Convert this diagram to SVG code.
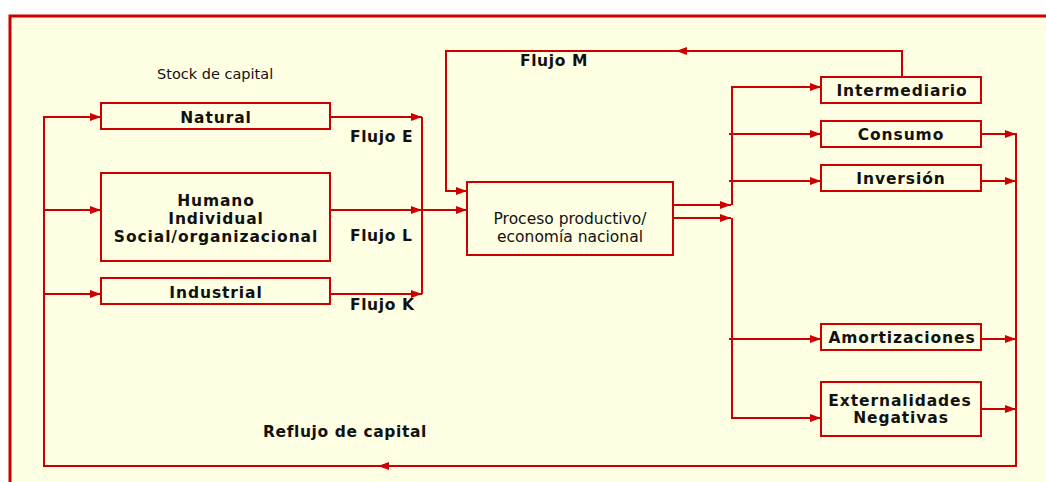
<svg xmlns="http://www.w3.org/2000/svg" width="1046" height="482" viewBox="0 0 1046 482">
  <defs>
    <marker id="arrow" markerWidth="11" markerHeight="8" refX="11" refY="4" orient="auto" markerUnits="userSpaceOnUse">
      <path d="M0,0 L11,4 L0,8 z" fill="#CC0000"/>
    </marker>
  </defs>
  <style>
    .box { fill: #FFFFE3; stroke: #CC0000; stroke-width: 2; }
    .wire { fill: none; stroke: #CC0000; stroke-width: 2; }
    .arr { marker-end: url(#arrow); }
    .lbl { font-family: "DejaVu Sans", Verdana, sans-serif; font-weight: bold; font-size: 15.5px; letter-spacing: 0.9px; fill: #111; text-anchor: middle; }
    .flow { font-family: "DejaVu Sans", Verdana, sans-serif; font-weight: bold; font-size: 15.5px; letter-spacing: 0.6px; fill: #111; }
    .plain { font-family: "DejaVu Sans", Verdana, sans-serif; font-size: 15.5px; fill: #111; }
  </style>

  <!-- page background and frame -->
  <rect x="0" y="0" width="1046" height="482" fill="#FFFFFF"/>
  <rect x="10" y="16" width="1100" height="520" fill="#FFFFE3" stroke="#CC0000" stroke-width="3"/>

  <text class="plain" x="157" y="79" style="font-size:14.5px">Stock de capital</text>

  <!-- connectors -->
  <g id="connectors">
    <!-- feedback into the capital stocks -->
    <path class="wire arr" d="M1016,466 L378,466"/>
    <path class="wire arr" d="M388,466 L44,466 L44,117 L101,117"/>
    <path class="wire arr" d="M44,210 L101,210"/>
    <path class="wire arr" d="M44,294 L101,294"/>

    <!-- flows E, L, K -->
    <path class="wire arr" d="M330,117 L422,117"/>
    <path class="wire arr" d="M330,210 L422,210"/>
    <path class="wire arr" d="M330,294 L422,294"/>
    <path class="wire" d="M422,117 L422,294"/>
    <path class="wire arr" d="M420,210 L467,210"/>

    <!-- flow M -->
    <path class="wire arr" d="M902,77 L902,51 L676,51"/>
    <path class="wire arr" d="M686,51 L446,51 L446,191 L467,191"/>

    <!-- outputs of the productive process -->
    <path class="wire arr" d="M673,205 L731,205"/>
    <path class="wire arr" d="M673,218 L731,218"/>
    <path class="wire arr" d="M732,205 L732,87 L821,87"/>
    <path class="wire arr" d="M729,134 L821,134"/>
    <path class="wire arr" d="M729,181 L821,181"/>
    <path class="wire arr" d="M732,218 L732,418 L821,418"/>
    <path class="wire arr" d="M729,339 L821,339"/>

    <!-- return to the collector -->
    <path class="wire arr" d="M981,134 L1016,134"/>
    <path class="wire arr" d="M981,181 L1016,181"/>
    <path class="wire arr" d="M981,339 L1016,339"/>
    <path class="wire arr" d="M981,409 L1016,409"/>
    <path class="wire" d="M1016,133 L1016,467"/>
  </g>

  <!-- flow labels -->
  <text class="flow" x="350" y="142">Flujo E</text>
  <text class="flow" x="350" y="241">Flujo L</text>
  <text class="flow" x="350" y="310">Flujo K</text>
  <text class="flow" x="520" y="66">Flujo M</text>
  <text class="flow" x="263" y="437">Reflujo de capital</text>

  <!-- capital stocks -->
  <g id="natural">
    <rect class="box" x="101" y="103" width="229" height="26"/>
    <text class="lbl" x="216" y="123">Natural</text>
  </g>
  <g id="humano">
    <rect class="box" x="101" y="173" width="229" height="88"/>
    <text class="lbl" x="216" y="206">Humano</text>
    <text class="lbl" x="216" y="224">Individual</text>
    <text class="lbl" x="216" y="242">Social/organizacional</text>
  </g>
  <g id="industrial">
    <rect class="box" x="101" y="278" width="229" height="26"/>
    <text class="lbl" x="216" y="298">Industrial</text>
  </g>

  <!-- productive process -->
  <g id="proceso">
    <rect class="box" x="467" y="182" width="206" height="73"/>
    <text class="plain" x="570" y="224" text-anchor="middle">Proceso productivo/</text>
    <text class="plain" x="570" y="242" text-anchor="middle">economía nacional</text>
  </g>

  <!-- uses of output -->
  <g id="intermediario">
    <rect class="box" x="821" y="77" width="160" height="26"/>
    <text class="lbl" x="902" y="96">Intermediario</text>
  </g>
  <g id="consumo">
    <rect class="box" x="821" y="121" width="160" height="26"/>
    <text class="lbl" x="901" y="140">Consumo</text>
  </g>
  <g id="inversion">
    <rect class="box" x="821" y="165" width="160" height="26"/>
    <text class="lbl" x="901" y="184">Inversión</text>
  </g>
  <g id="amortizaciones">
    <rect class="box" x="821" y="324" width="160" height="26"/>
    <text class="lbl" x="902" y="343">Amortizaciones</text>
  </g>
  <g id="externalidades">
    <rect class="box" x="821" y="382" width="160" height="54"/>
    <text class="lbl" x="900" y="406">Externalidades</text>
    <text class="lbl" x="901" y="423">Negativas</text>
  </g>
</svg>
